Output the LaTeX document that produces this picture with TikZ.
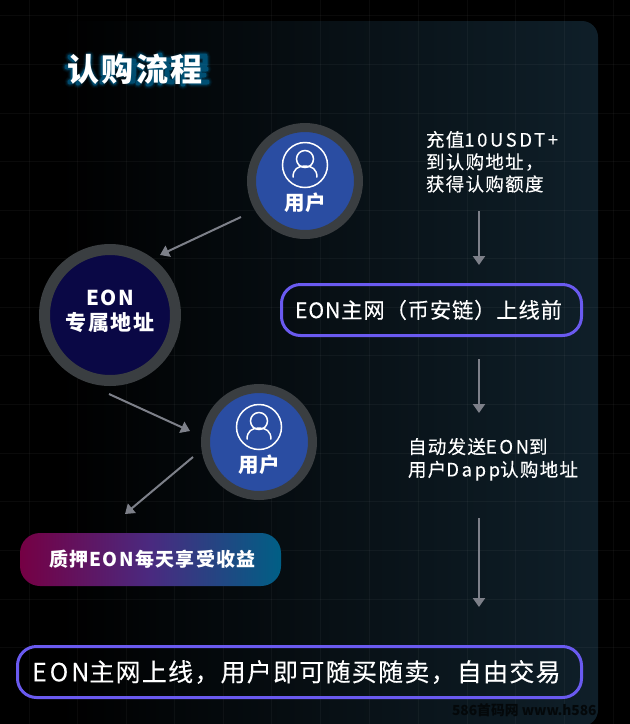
\documentclass[tikz,border=0pt]{standalone}
\usepackage{fontspec}
\setmainfont{Noto Sans CJK SC}
\newfontfamily\lsA{Noto Sans CJK SC}[LetterSpace=7,FakeBold=0.2]
\newfontfamily\latA{Noto Sans CJK SC}[LetterSpace=14,FakeBold=0.2]
\newfontfamily\lsD{Noto Sans CJK SC}[LetterSpace=4,FakeBold=0.2]
\newfontfamily\lsC{Noto Sans CJK SC}[LetterSpace=5,FakeBold=0.2]
\newfontfamily\latE{Noto Sans CJK SC}[LetterSpace=12,FakeBold=0.2]
\newfontfamily\lsB{Noto Sans CJK SC}[LetterSpace=7]
\newfontfamily\lsT{Noto Sans CJK SC}[LetterSpace=8]
\usetikzlibrary{calc,arrows.meta}
\definecolor{ring}{HTML}{3A3E41}
\definecolor{userblue}{HTML}{2A4DA2}
\definecolor{eonblue}{HTML}{0A0845}
\definecolor{flow}{HTML}{7D8089}
\definecolor{violet}{HTML}{6A5AF0}
\definecolor{panelR}{HTML}{0F1F29}
\definecolor{glowc}{HTML}{00A0E8}
\definecolor{pillA}{HTML}{750044}
\definecolor{pillB}{HTML}{4A2A80}
\definecolor{pillC}{HTML}{005F85}
\newcommand{\glowstrokes}{
  (70,57) -- (74,60) (67,67) -- (73,67) -- (73,80) -- (70,82)
  (89,56) -- (88,68) -- (78,83) (88,68) -- (95,83)
  (103,58) -- (112,58) -- (112,74) -- (103,74) -- (103,58) (107,62) -- (107,72)
  (105,76) -- (102,82) (110,76) -- (114,82)
  (121,55) -- (117,66) (119,61) -- (134,61) -- (133,81) -- (128,81)
  (124,66) -- (121,74) -- (130,72) (127,67) -- (129,73)
  (140,56) -- (144,59) (138,65) -- (142,68) (138,83) -- (143,74)
  (148,60) -- (172,60) (160,55) -- (160,60) (155,62) -- (150,68) -- (168,67) (165,63) -- (170,68)
  (153,72) -- (151,83) -- (148,84) (160,72) -- (160,83) (167,72) -- (167,81) -- (172,82)
  (190,56) -- (176,59) (175,64) -- (191,64) (183,58) -- (183,84) (183,65) -- (175,78) (183,66) -- (190,75)
  (193,56) -- (205,56) -- (205,65) -- (193,65) -- (193,56)
  (192,69) -- (206,69) (199,69) -- (199,82) (194,75) -- (204,75) (191,82) -- (207,82)
}
\tikzset{
  x=1pt,y=-1pt,
  txt/.style={text=white,inner sep=0pt,outer sep=0pt},
  usercirc/.style={circle,minimum size=107pt,inner sep=0pt,draw=ring,line width=9pt,fill=userblue},
  eoncirc/.style={circle,minimum size=131pt,inner sep=0pt,draw=ring,line width=11pt,fill=eonblue},
  flowarrow/.style={draw=flow,line width=2pt,-{Triangle[length=9pt,width=12pt]}},
  violetbox/.style={draw=violet,line width=3pt,rounded corners=19pt,inner sep=0pt,fill=none},
  iconline/.style={draw=white,line width=1.5pt,fill=none},
  glowline/.style={draw=glowc,line cap=round,line join=round},
  usericon/.pic={
    \path[iconline] (0,0) circle[radius=22.5];
    \path[iconline] (0,-6) circle[radius=8.5];
    \path[iconline] (-12,12.5) .. controls (-12,4) and (-7,1) .. (0,1) .. controls (7,1) and (12,4) .. (12,12.5);
  }
}
\begin{document}
\begin{tikzpicture}
\useasboundingbox (0,0) rectangle (630,724);
\fill[black] (0,0) rectangle (630,724);
% panel
\shade[rounded corners=16pt,left color=black,right color=panelR] (60,21) rectangle (598,726);
% grid
\begin{scope}[white,opacity=0.04,line width=0.8pt]
\foreach \gx in {29,77.5,126,174.5,223,271.5,320,369,418,467,515,564,613} \draw (\gx,0) -- (\gx,724);
\foreach \gy in {15,64,113,161.5,210,258.5,307,355.5,404,453,501.5,550,599,647} \draw (0,\gy) -- (630,\gy);
\end{scope}
% watermark
\node[txt,anchor=west,text=black!75!panelR,font=\fontsize{13.8}{15}\selectfont\bfseries] (wm) at (452,710) {586首码网 www.h586};
% title glow
\draw[glowline,line width=11pt,opacity=.05] \glowstrokes;
\draw[glowline,line width=9pt,opacity=.08] \glowstrokes;
\draw[glowline,line width=7pt,opacity=.14] \glowstrokes;
\draw[glowline,line width=5pt,opacity=.3] \glowstrokes;
\node[txt,anchor=west,font=\lsT\fontsize{32}{33}\selectfont\bfseries] (title) at (67,69.5) {认购流程};
% circles
\node[usercirc] (u1) at (305,181) {};
\pic at (305,165) {usericon};
\node[txt,font=\fontsize{20.5}{20.5}\selectfont\bfseries] (u1t) at (305,203) {用户};
\node[eoncirc] (eon) at (110,315) {};
\node[txt,font=\lsB\fontsize{20.5}{20.5}\selectfont\bfseries] (eon1) at (110,298) {EON};
\node[txt,font=\lsB\fontsize{21}{21}\selectfont\bfseries] (eon2) at (110,323) {专属地址};
\node[usercirc] (u2) at (259,442) {};
\pic at (259,427) {usericon};
\node[txt,font=\fontsize{20.5}{20.5}\selectfont\bfseries] (u2t) at (259,465) {用户};
% pill
\shade[rounded corners=20pt,left color=pillA,right color=pillC,middle color=pillB] (20,533) rectangle (281,586);
\node[inner sep=0pt,minimum width=261pt,minimum height=53pt] (pill) at (150.5,559.5) {};
\node[txt,anchor=west,font=\lsB\fontsize{19}{19}\selectfont\bfseries] (pillt) at (49,559.5) {质押EON每天享受收益};
% right column
\node[txt,anchor=north west,align=left,font=\lsA\fontsize{18.5}{22.2}\selectfont] (t1) at (426,131) {充值{\latA 10USDT+}\\到认购地址，\\获得认购额度};
\node[violetbox,minimum width=300pt,minimum height=51pt] (b1) at (431.5,310) {};
\node[txt,anchor=west,font=\lsD\fontsize{21.3}{21}\selectfont] (b1t) at (295,310) {EON主网（币安链）上线前};
\node[txt,anchor=north west,align=left,font=\lsA\fontsize{18.5}{22.8}\selectfont] (t2) at (408,438) {自动发送{\latA EON}到\\用户{\latA Dapp}认购地址};
\node[violetbox,minimum width=564pt,minimum height=51pt] (b2) at (299.5,672) {};
\node[txt,anchor=west,font=\lsC\fontsize{25}{25}\selectfont] (b2t) at (32,672) {{\latE EON}主网上线，用户即可随买随卖，自由交易};
% connectors
\draw[flowarrow] ($(u1)+(-64,36)$) -- ($(eon)+(50,-60)$);
\draw[flowarrow] ($(eon)+(-1,79)$) -- ($(u2)+(-69,-11)$);
\draw[flowarrow] ($(u2)+(-66,15)$) -- ($(pill)+(-25.5,-45.5)$);
\draw[flowarrow] ($(b1)+(47.5,-99)$) -- ($(b1)+(47.5,-45)$);
\draw[flowarrow] ($(b1)+(47.5,49)$) -- ($(b1)+(47.5,103)$);
\draw[flowarrow] ($(b2)+(179.5,-154)$) -- ($(b2)+(179.5,-65)$);
\end{tikzpicture}
\end{document}
